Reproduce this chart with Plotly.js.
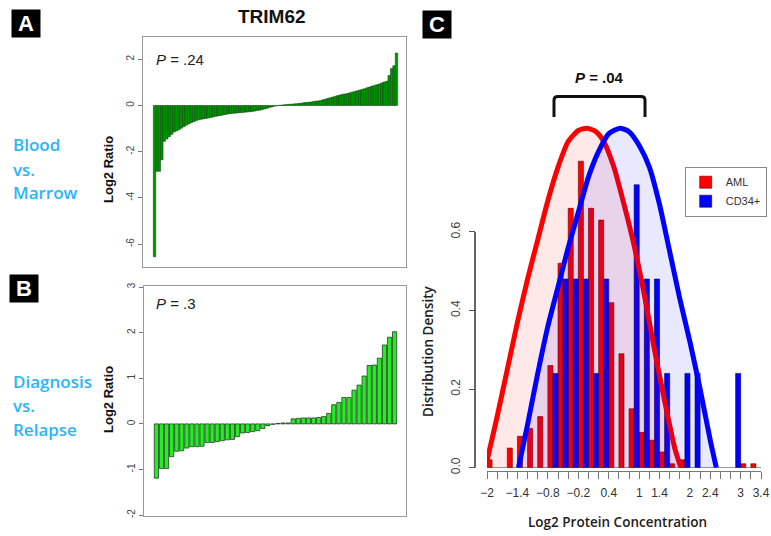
<!DOCTYPE html>
<html><head><meta charset="utf-8">
<script src="https://cdn.plot.ly/plotly-3.0.1.min.js"></script>
<style>html,body{margin:0;padding:0;background:#fff}#chart{width:771px;height:536px}</style>
</head><body><div id="chart"></div>
<script>
// Panel A: Blood vs. Marrow log2 ratios (sorted)
const ratioBloodMarrow = [-6.55,-2.85,-2.85,-2.35,-1.55,-1.45,-1.35,-1.25,-1.15,-1.1,
 -1.05,-0.98,-0.92,-0.85,-0.8,-0.75,-0.7,-0.66,-0.62,-0.6,
 -0.58,-0.56,-0.54,-0.52,-0.5,-0.47,-0.45,-0.43,-0.41,-0.39,
 -0.37,-0.35,-0.34,-0.33,-0.32,-0.31,-0.3,-0.29,-0.28,-0.27,
 -0.26,-0.24,-0.22,-0.2,-0.18,-0.15,-0.12,-0.09,-0.06,-0.03,
 -0.01,0.01,0.02,0.03,0.04,0.05,0.06,0.07,0.08,0.09,
 0.1,0.12,0.13,0.14,0.15,0.17,0.19,0.2,0.22,0.25,
 0.28,0.31,0.34,0.37,0.4,0.43,0.46,0.49,0.5,0.52,
 0.55,0.58,0.61,0.64,0.67,0.7,0.73,0.77,0.8,0.84,
 0.87,0.9,0.93,0.98,1.02,1.05,1.3,1.6,1.72,2.27];
// Panel B: Diagnosis vs. Relapse log2 ratios (sorted)
const ratioDiagRelapse = [-1.19,-0.98,-0.98,-0.72,-0.6,-0.59,-0.53,-0.5,-0.5,-0.49,
 -0.41,-0.41,-0.39,-0.37,-0.35,-0.34,-0.28,-0.2,-0.19,-0.17,
 -0.15,-0.1,-0.04,-0.01,0.01,0.02,0.02,0.11,0.12,0.13,
 0.13,0.13,0.14,0.16,0.23,0.42,0.47,0.58,0.58,0.74,
 0.85,1.05,1.28,1.29,1.44,1.73,1.9,2.02];
// Panel C: histogram (bin starts, width 0.2) and densities
const amlBins  = [-2.0,-1.6,-1.4,-1.2,-1.0,-0.8,-0.6,-0.4,-0.2,0.0,0.2,0.4,0.6,0.8,1.0,1.2,1.4,1.6,1.8,3.0,3.2];
const amlDens  = [0.02,0.05,0.08,0.10,0.13,0.26,0.52,0.66,0.78,0.66,0.63,0.42,0.29,0.15,0.09,0.07,0.04,0.01,0.02,0.01,0.01];
const cd34Bins = [-0.8,-0.6,-0.4,-0.2,0.0,0.2,0.8,1.0,1.2,1.4,1.8,2.0,2.8];
const cd34Dens = [0.24,0.48,0.48,0.48,0.24,0.48,0.72,0.48,0.48,0.24,0.24,0.24,0.24];
// Panel C: fitted curves
const amlCurveX  = [-2.03,-1.8,-1.6,-1.4,-1.2,-1.0,-0.8,-0.6,-0.4,-0.2,-0.03,0.15,0.3,0.5,0.7,0.9,1.1,1.3,1.5,1.7,1.82];
const amlCurveY  = [0,0.13,0.25,0.37,0.48,0.58,0.68,0.765,0.83,0.858,0.864,0.855,0.83,0.765,0.67,0.565,0.44,0.30,0.17,0.05,0];
const cd34CurveX = [-1.38,-1.2,-1.0,-0.8,-0.6,-0.4,-0.2,0.0,0.2,0.4,0.62,0.8,1.0,1.2,1.4,1.6,1.8,2.0,2.2,2.4,2.52];
const cd34CurveY = [0,0.11,0.24,0.36,0.46,0.56,0.65,0.74,0.805,0.85,0.864,0.855,0.82,0.765,0.67,0.55,0.43,0.32,0.2,0.07,0];
// Tick labels
const tickA = [2,0,-2,-4,-6];
const tickB = [3,2,1,0,-1,-2];
const tickCx = [-2,-1.4,-0.8,-0.2,0.4,1,1.4,2,2.4,3,3.4];
const tickCy = [0,0.2,0.4,0.6];

const W = 771, H = 536;
const px = v => v / W, py = v => 1 - v / H;
const lab = v => String(v).replace('-', '\u2212');

const traces = [
  {type:'bar', x: ratioBloodMarrow.map((_, i) => i + 1), y: ratioBloodMarrow, xaxis:'x', yaxis:'y',
   marker:{color:'#009400', line:{color:'#0b3d0b', width:0.5}}, showlegend:false, hoverinfo:'y'},
  {type:'bar', x: ratioDiagRelapse.map((_, i) => i + 1), y: ratioDiagRelapse, xaxis:'x2', yaxis:'y2', width:0.83,
   marker:{color:'#22ee22', line:{color:'#2a3a2a', width:0.8}}, showlegend:false, hoverinfo:'y'},
  {type:'bar', name:'AML', x: amlBins, y: amlDens, xaxis:'x3', yaxis:'y3', width:0.1, offset:0,
   marker:{color:'#ff0000', line:{color:'#550000', width:0.6}}},
  {type:'bar', name:'CD34+', x: cd34Bins, y: cd34Dens, xaxis:'x3', yaxis:'y3', width:0.1, offset:0.1,
   marker:{color:'#0000ff', line:{color:'#000055', width:0.6}}},
  {type:'scatter', mode:'lines', x: amlCurveX, y: amlCurveY, xaxis:'x3', yaxis:'y3', fill:'tozeroy',
   fillcolor:'rgba(255,0,0,0.09)', line:{color:'#ff0000', width:5, shape:'spline', smoothing:0.6}, showlegend:false, cliponaxis:false},
  {type:'scatter', mode:'lines', x: cd34CurveX, y: cd34CurveY, xaxis:'x3', yaxis:'y3', fill:'tozeroy',
   fillcolor:'rgba(0,0,255,0.09)', line:{color:'#0000ff', width:5, shape:'spline', smoothing:0.6}, showlegend:false, cliponaxis:false}
];

const tickFont = {family:'Liberation Sans, Arial', size:10, color:'#444'};
const boxAxis = {showline:true, mirror:true, linecolor:'#9a9a9a', linewidth:1, showgrid:false, zeroline:false};

const layout = {
  width: W, height: H, margin:{l:0, r:0, t:0, b:0}, paper_bgcolor:'#fff', plot_bgcolor:'rgba(0,0,0,0)',
  barmode:'overlay', bargap:0,
  font:{family:'Liberation Sans, Arial', color:'#222'},
  xaxis: Object.assign({}, boxAxis, {domain:[px(143.3), px(406)], range:[-3.6, 103.9], anchor:'y', showticklabels:false, ticks:''}),
  yaxis: Object.assign({}, boxAxis, {domain:[py(266.7), py(36.7)], range:[-6.98, 2.98], anchor:'x',
    tickmode:'array', tickvals: tickA, ticktext: tickA.map(String), ticks:'outside', ticklen:4, tickcolor:'#777',
    tickangle:-90, tickfont: tickFont}),
  xaxis2: Object.assign({}, boxAxis, {domain:[px(144.3), px(406)], range:[-1.39, 50.25], anchor:'y2', showticklabels:false, ticks:''}),
  yaxis2: Object.assign({}, boxAxis, {domain:[py(516), py(285.7)], range:[-2.02, 3.03], anchor:'x2',
    tickmode:'array', tickvals: tickB, ticktext: tickB.map(String), ticks:'outside', ticklen:4, tickcolor:'#777',
    tickangle:-90, tickfont: tickFont}),
  xaxis3: {domain:[px(487), px(761)], range:[-2, 3.4], anchor:'free', position: py(470.7),
    showline:true, linecolor:'#777', linewidth:1, showgrid:false, zeroline:false,
    tickmode:'array', tickvals: tickCx, ticktext: tickCx.map(lab), ticks:'outside', ticklen:7, tickcolor:'#777',
    ticklabelstandoff:4,
    minor:{tick0:-2, dtick:0.2, ticks:'outside', ticklen:7, tickcolor:'#777', showgrid:false},
    tickfont:{family:'Liberation Sans, Arial', size:12, color:'#333'}},
  yaxis3: {domain:[py(467.7), py(114)], range:[0, 0.9], anchor:'free', position: px(475),
    showline:false, showgrid:false, zeroline:true, zerolinecolor:'#999', zerolinewidth:1,
    tickmode:'array', tickvals: tickCy, ticktext: tickCy.map(v => v.toFixed(1)), ticks:'outside', ticklen:6, tickcolor:'#555',
    tickangle:-90, ticklabelstandoff:4, tickfont:{family:'Liberation Sans, Arial', size:12, color:'#444'}},
  legend:{x: px(766.7), y: py(166.7), xanchor:'right', yanchor:'top', bgcolor:'#fff', bordercolor:'#888', borderwidth:1,
    font:{family:'Liberation Sans, Arial', size:11, color:'#333'}, itemwidth:30, tracegroupgap:0},
  shapes: [
    {type:'line', xref:'paper', yref:'y3', x0:px(475), x1:px(475), y0:0, y1:0.6, line:{color:'#333', width:1.5}},
    {type:'path', xref:'paper', yref:'paper', line:{color:'#111', width:3},
     path:`M ${px(554)},${py(117)} L ${px(554)},${py(100)} Q ${px(554)},${py(96.5)} ${px(558)},${py(96.5)} L ${px(641)},${py(96.5)} Q ${px(645)},${py(96.5)} ${px(645)},${py(100)} L ${px(645)},${py(117)}`}
  ],
  annotations: []
};

const ann = layout.annotations;
const boxLabel = (t, cx, cy) => ann.push({text:'<b>'+t+'</b>', xref:'paper', yref:'paper', x:px(cx), y:py(cy),
  xanchor:'center', yanchor:'middle', showarrow:false, bgcolor:'#000', borderpad:1, width:26, height:25,
  font:{family:'Liberation Sans, Arial', size:22, color:'#fff'}});
boxLabel('A', 26, 23.5); boxLabel('B', 24, 288); boxLabel('C', 437, 24);

const txt = (t, x, y, o) => ann.push(Object.assign({text:t, xref:'paper', yref:'paper', x:px(x), y:py(y),
  xanchor:'left', yanchor:'middle', showarrow:false}, o));
const blue = {font:{family:'Open Sans', size:17, color:'#29b6f6', weight:600}};
txt('Blood', 11, 145, blue); txt('vs.', 11, 169, blue); txt('Marrow', 11, 193, blue);
txt('Diagnosis', 11, 381, blue); txt('vs.', 11, 405, blue); txt('Relapse', 11, 429, blue);

txt('<b>TRIM62</b>', 272, 16.5, {xanchor:'center', font:{family:'Liberation Sans, Arial', size:19, color:'#111'}});
txt('<i>P</i> = .24', 154, 60, {font:{family:'Liberation Sans, Arial', size:15, color:'#222'}});
txt('<i>P</i> = .3', 154, 303, {font:{family:'Liberation Sans, Arial', size:15, color:'#222'}});
txt('<b>Log2 Ratio</b>', 108, 170, {xanchor:'center', textangle:-90, font:{family:'Liberation Sans, Arial', size:13, color:'#111'}});
txt('<b>Log2 Ratio</b>', 108, 400, {xanchor:'center', textangle:-90, font:{family:'Liberation Sans, Arial', size:13, color:'#111'}});
txt('<b><i>P</i> = .04</b>', 599, 77, {xanchor:'center', font:{family:'Liberation Sans, Arial', size:15, color:'#111'}});
txt('Distribution Density', 428, 352, {xanchor:'center', textangle:-90, font:{family:'Open Sans', size:13.5, color:'#222', weight:600}});
txt('Log2 Protein Concentration', 617, 522, {xanchor:'center', font:{family:'Open Sans', size:13.5, color:'#222', weight:600}});

Plotly.newPlot('chart', traces, layout, {displayModeBar:false, staticPlot:true});
</script></body></html>
